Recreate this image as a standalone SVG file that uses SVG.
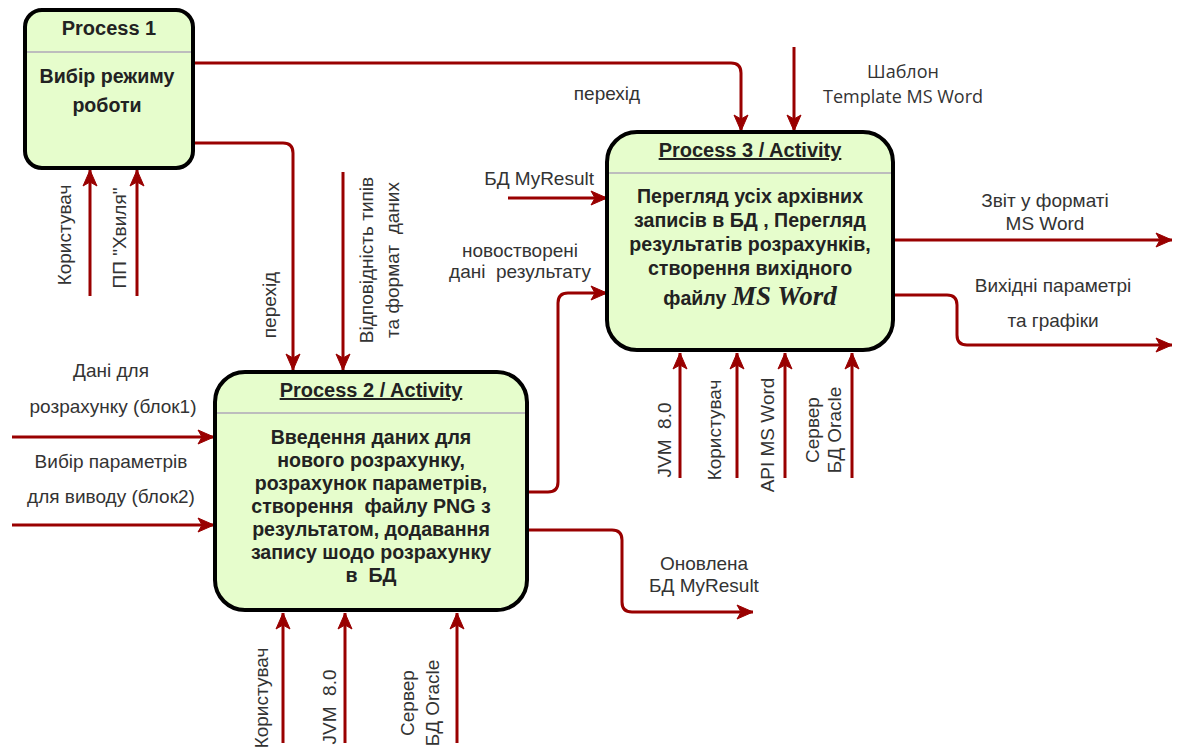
<svg xmlns="http://www.w3.org/2000/svg" width="1181" height="752" viewBox="0 0 1181 752">
<defs>
<marker id="ah" markerUnits="userSpaceOnUse" markerWidth="20" markerHeight="20" viewBox="0 0 20 20" refX="18" refY="10" orient="auto">
<path d="M2,3 L18,10 L2,17 L6,10 Z" fill="#990000" stroke="#990000" stroke-width="1"/>
</marker>
</defs>
<style>
text{white-space:pre}
.box{fill:#e6fdcc;stroke:#000;stroke-width:4}
.div{stroke:#bdbdbd;stroke-width:2}
.hd{font-family:"Liberation Sans",Arial,sans-serif;font-size:20px;font-weight:bold;fill:#222;text-anchor:middle}
.bd{font-family:"Liberation Sans",Arial,sans-serif;font-size:19.6px;font-weight:bold;fill:#222;text-anchor:middle}
.lb{font-family:"Liberation Sans",Arial,sans-serif;font-size:19px;fill:#333;text-anchor:middle}
.lbo{font-family:"Open Sans","Liberation Sans",sans-serif;font-size:18px;fill:#333;text-anchor:middle}
.cn{fill:none;stroke:#990000;stroke-width:3;marker-end:url(#ah)}
</style>
<rect width="1181" height="752" fill="#fff"/>
<g id="connectors">
<path class="cn" d="M193,63 H731 Q741,63 741,73 V131"/>
<path class="cn" d="M193,143 H283 Q293,143 293,153 V370"/>
<path class="cn" d="M343,172 V370"/>
<path class="cn" d="M794,47 V131"/>
<path class="cn" d="M508,198 H607"/>
<path class="cn" d="M527,492 H548 Q558,492 558,482 V303 Q558,293 568,293 H607"/>
<path class="cn" d="M527,530 H612 Q622,530 622,540 V602 Q622,612 632,612 H753"/>
<path class="cn" d="M12,437 H214"/>
<path class="cn" d="M12,525 H214"/>
<path class="cn" d="M893,240 H1172"/>
<path class="cn" d="M893,295 H947 Q957,295 957,305 V335 Q957,345 967,345 H1172"/>
<path class="cn" d="M90,296 V170"/>
<path class="cn" d="M137,296 V170"/>
<path class="cn" d="M283,743 V613"/>
<path class="cn" d="M345,743 V613"/>
<path class="cn" d="M457,743 V613"/>
<path class="cn" d="M680,478 V353"/>
<path class="cn" d="M737,478 V353"/>
<path class="cn" d="M785,478 V353"/>
<path class="cn" d="M852,478 V353"/>
</g>
<g id="labels">
<text class="lb" x="607" y="100">перехід</text>
<text class="lbo" x="903" y="78">Шаблон</text>
<text class="lbo" x="903" y="103">Template MS Word</text>
<text class="lb" x="594" y="185" style="text-anchor:end">БД MyResult</text>
<text class="lb" x="520" y="257">новостворені</text>
<text class="lb" x="520" y="278">дані  результату</text>
<text class="lb" x="704" y="570">Оновлена</text>
<text class="lb" x="704" y="592">БД MyResult</text>
<text class="lb" x="111" y="377">Дані для</text>
<text class="lb" x="113" y="413">розрахунку (блок1)</text>
<text class="lb" x="111" y="468">Вибір параметрів</text>
<text class="lb" x="111" y="503">для виводу (блок2)</text>
<text class="lb" x="1045" y="207">Звіт у форматі</text>
<text class="lb" x="1045" y="230">MS Word</text>
<text class="lb" x="1053" y="292">Вихідні параметрі</text>
<text class="lb" x="1053" y="327">та графіки</text>
<text class="lb" transform="translate(71,235) rotate(-90)">Користувач</text>
<text class="lb" transform="translate(126,238) rotate(-90)">ПП "Хвиля"</text>
<text class="lb" transform="translate(276,305) rotate(-90)">перехід</text>
<text class="lb" transform="translate(373,260) rotate(-90)">Відповідність типів</text>
<text class="lb" transform="translate(399,260) rotate(-90)">та формат  даних</text>
<text class="lb" transform="translate(268,698) rotate(-90)">Користувач</text>
<text class="lb" transform="translate(336,707) rotate(-90)">JVM  8.0</text>
<text class="lb" transform="translate(414,703) rotate(-90)">Сервер</text>
<text class="lb" transform="translate(439,703) rotate(-90)">БД Oracle</text>
<text class="lb" transform="translate(671,440) rotate(-90)">JVM  8.0</text>
<text class="lb" transform="translate(721,430) rotate(-90)">Користувач</text>
<text class="lb" transform="translate(774,435) rotate(-90)">API MS Word</text>
<text class="lb" transform="translate(819,430) rotate(-90)">Сервер</text>
<text class="lb" transform="translate(841,430) rotate(-90)">БД Oracle</text>
</g>
<g id="process1">
<rect class="box" x="25" y="10" width="168" height="158" rx="17"/>
<line class="div" x1="27" y1="52" x2="191" y2="52"/>
<text class="hd" x="109" y="35">Process 1</text>
<text class="bd" x="107" y="83">Вибір режиму</text>
<text class="bd" x="107" y="112">роботи</text>
</g>
<g id="process2">
<rect class="box" x="215" y="372" width="312" height="238" rx="30"/>
<line class="div" x1="217" y1="413" x2="525" y2="413"/>
<text class="hd" x="371" y="397" text-decoration="underline">Process 2 / Activity</text>
<text class="bd" x="371" y="444">Введення даних для</text>
<text class="bd" x="371" y="467">нового розрахунку,</text>
<text class="bd" x="371" y="490">розрахунок параметрів,</text>
<text class="bd" x="371" y="513">створення  файлу PNG з</text>
<text class="bd" x="371" y="536">результатом, додавання</text>
<text class="bd" x="371" y="559">запису шодо розрахунку</text>
<text class="bd" x="371" y="582">в  БД</text>
</g>
<g id="process3">
<rect class="box" x="607" y="132" width="286" height="218" rx="30"/>
<line class="div" x1="609" y1="173" x2="891" y2="173"/>
<text class="hd" x="750" y="157" text-decoration="underline">Process 3 / Activity</text>
<text class="bd" x="750" y="203">Перегляд усіх архівних</text>
<text class="bd" x="750" y="227">записів в БД , Перегляд</text>
<text class="bd" x="750" y="251">результатів розрахунків,</text>
<text class="bd" x="750" y="275">створення вихідного</text>
<text class="bd" x="750" y="305">файлу <tspan style="font-family:'Liberation Serif','Times New Roman',serif;font-style:italic;font-size:27px">MS Word</tspan></text>
</g>
</svg>
